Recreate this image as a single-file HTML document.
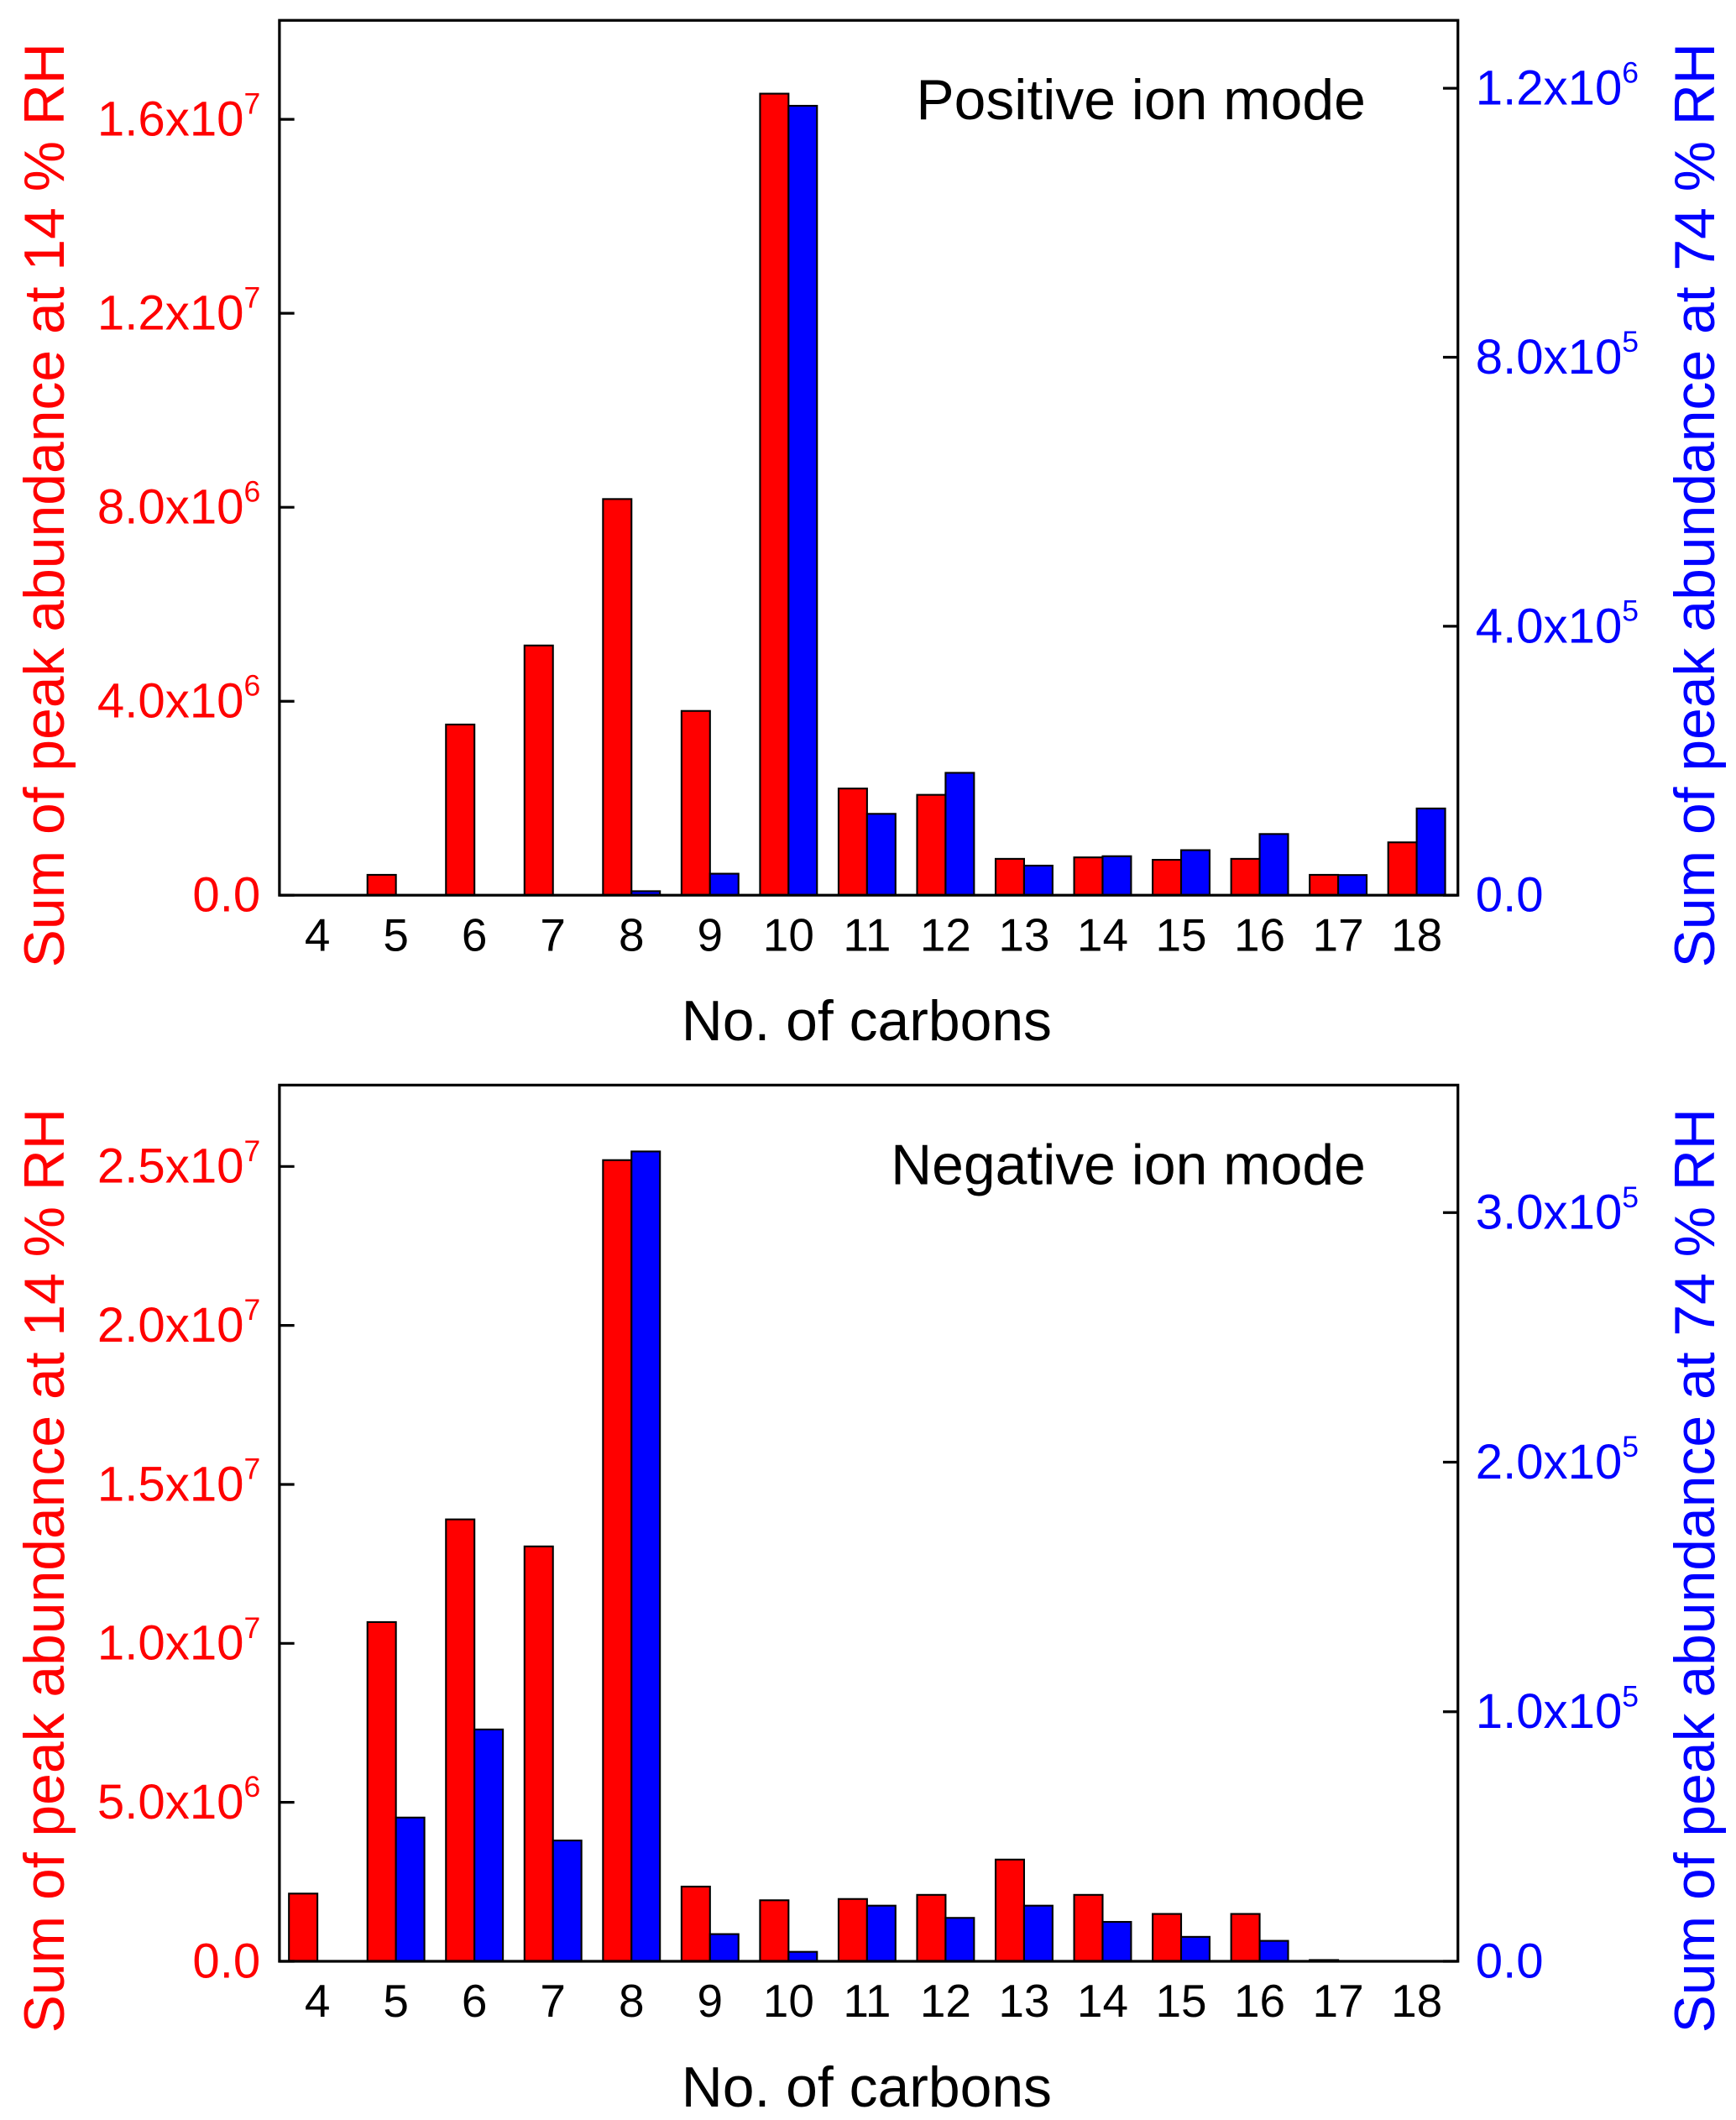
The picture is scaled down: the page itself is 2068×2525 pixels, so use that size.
<!DOCTYPE html>
<html><head><meta charset="utf-8"><style>
html,body{margin:0;padding:0;background:#fff;}
svg{display:block;font-family:"Liberation Sans",Arial,sans-serif;}
</style></head><body>
<svg id="chart" width="2068" height="2525" viewBox="0 0 1280 1563" xmlns="http://www.w3.org/2000/svg"></svg>
<script>
const categories = [4,5,6,7,8,9,10,11,12,13,14,15,16,17,18];
const posRed = [0,0.42e6,3.52e6,5.15e6,8.17e6,3.8e6,16.53e6,2.2e6,2.07e6,0.75e6,0.78e6,0.73e6,0.75e6,0.42e6,1.09e6];
const posBlue = [0,0,0,0,6e3,32e3,1174e3,121e3,182e3,44e3,58e3,67e3,91e3,30e3,129e3];
const negRed = [2.13e6,10.67e6,13.9e6,13.05e6,25.2e6,2.35e6,1.92e6,1.96e6,2.09e6,3.2e6,2.09e6,1.49e6,1.49e6,0.04e6,0];
const negBlue = [0,57.6e3,92.9e3,48.4e3,324.5e3,10.9e3,3.8e3,22.3e3,17.4e3,22.3e3,15.8e3,9.8e3,8.2e3,0,0];
const posLeftTicks = [0,4e6,8e6,1.2e7,1.6e7];
const posLeftLabels = [["0.0",""],["4.0x10","6"],["8.0x10","6"],["1.2x10","7"],["1.6x10","7"]];
const posRightTicks = [0,4e5,8e5,1.2e6];
const posRightLabels = [["0.0",""],["4.0x10","5"],["8.0x10","5"],["1.2x10","6"]];
const negLeftTicks = [0,5e6,1e7,1.5e7,2e7,2.5e7];
const negLeftLabels = [["0.0",""],["5.0x10","6"],["1.0x10","7"],["1.5x10","7"],["2.0x10","7"],["2.5x10","7"]];
const negRightTicks = [0,1e5,2e5,3e5];
const negRightLabels = [["0.0",""],["1.0x10","5"],["2.0x10","5"],["3.0x10","5"]];

const svg = document.getElementById('chart');
const NS = 'http://www.w3.org/2000/svg';
function mk(tag, attrs, parent){const e=document.createElementNS(NS,tag);for(const k in attrs)e.setAttribute(k,attrs[k]);(parent||svg).appendChild(e);return e;}

function panel(p){
  const g = mk('g',{});
  
  
  const L=206,R=1075,T=p.top,B=p.base;
  const yL = v => B - v/p.leftUnit*p.leftPx;
  const yR = v => B - v/p.rightUnit*p.rightPx;
  const x0=234, dx=57.9;
  const xc = i => x0 + i*dx;
  const bw = 21;
  categories.forEach((c,i)=>{
    if(p.red[i]>0){
      const r=mk('rect',{x:xc(i)-bw,y:yL(p.red[i]),width:bw,height:B-yL(p.red[i]),fill:'#ff0000',stroke:'#000','stroke-width':1.3},g);
      
      
    }
    if(p.blue[i]>0){
      const b=mk('rect',{x:xc(i),y:yR(p.blue[i]),width:bw,height:B-yR(p.blue[i]),fill:'#0000ff',stroke:'#000','stroke-width':1.3},g);
      
      
    }
    const t=mk('text',{x:xc(i),y:B+41,'font-size':34,'text-anchor':'middle',fill:'#000'},g);
    t.textContent=c;
    
    
  });
  const fr=mk('rect',{x:L,y:T,width:R-L,height:B-T,fill:'none',stroke:'#000','stroke-width':2},g);
  
  
  p.leftTicks.forEach((v,i)=>{
    const y=yL(v);
    mk('line',{x1:L,x2:L+11,y1:y,y2:y,stroke:'#000','stroke-width':2},g);
    const t=mk('text',{x:192,y:y+12,'font-size':36,'text-anchor':'end',fill:'#ff0000'},g);
    
    
    t.textContent=p.leftLabels[i][0];
    if(p.leftLabels[i][1]){const s=mk('tspan',{dy:-16,'font-size':22},t);s.textContent=p.leftLabels[i][1];}
  });
  p.rightTicks.forEach((v,i)=>{
    const y=yR(v);
    mk('line',{x1:R-11,x2:R,y1:y,y2:y,stroke:'#000','stroke-width':2},g);
    const t=mk('text',{x:1088,y:y+12,'font-size':36,'text-anchor':'start',fill:'#0000ff'},g);
    
    
    t.textContent=p.rightLabels[i][0];
    if(p.rightLabels[i][1]){const s=mk('tspan',{dy:-16,'font-size':22},t);s.textContent=p.rightLabels[i][1];}
  });
  const cy=(T+B)/2+35;
  const lt=mk('text',{x:0,y:0,'font-size':42,'text-anchor':'middle',fill:'#ff0000',transform:`translate(47,${cy}) rotate(-90)`},g);
  lt.textContent='Sum of peak abundance at 14 % RH';
  
  
  const rt=mk('text',{x:0,y:0,'font-size':42,'text-anchor':'middle',fill:'#0000ff',transform:`translate(1264,${cy}) rotate(-90)`},g);
  rt.textContent='Sum of peak abundance at 74 % RH';
  
  
  const xt=mk('text',{x:639,y:B+107,'font-size':42,'text-anchor':'middle',fill:'#000'},g);
  xt.textContent='No. of carbons';
  
  
  const tt=mk('text',{x:1007,y:T+73,'font-size':42,'text-anchor':'end',fill:'#000'},g);
  tt.textContent=p.title;
  
  
}
panel({name:'positive-ion-panel',title:'Positive ion mode',top:15,base:660,red:posRed,blue:posBlue,
  leftUnit:4e6,leftPx:143,rightUnit:4e5,rightPx:198.3,
  leftTicks:posLeftTicks,leftLabels:posLeftLabels,rightTicks:posRightTicks,rightLabels:posRightLabels});
panel({name:'negative-ion-panel',title:'Negative ion mode',top:800,base:1446,red:negRed,blue:negBlue,
  leftUnit:5e6,leftPx:117.2,rightUnit:1e5,rightPx:184,
  leftTicks:negLeftTicks,leftLabels:negLeftLabels,rightTicks:negRightTicks,rightLabels:negRightLabels});
</script>
</body></html>
